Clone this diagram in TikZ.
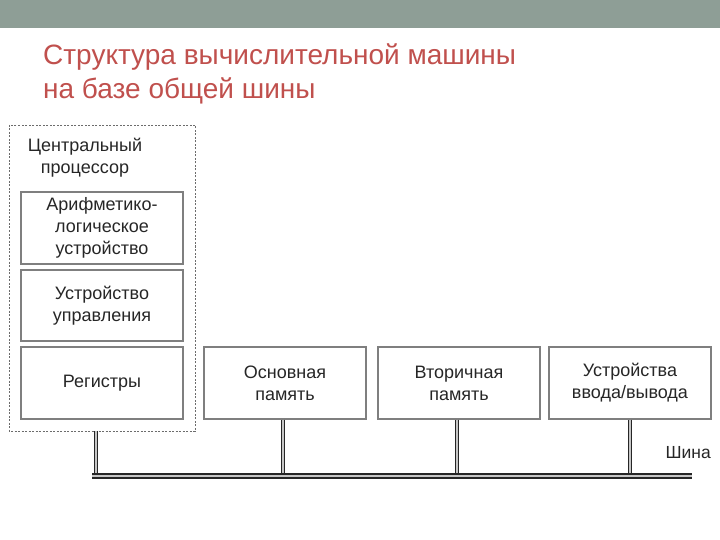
\documentclass[tikz,border=0pt]{standalone}
\usepackage{fontspec}
\setmainfont{Liberation Sans}
\definecolor{topbar}{HTML}{8E9E96}
\definecolor{titlered}{HTML}{C0504D}
\definecolor{boxgray}{HTML}{7F7F7F}
\definecolor{txt}{HTML}{262626}
\tikzset{
  unit/.style={draw=boxgray, line width=1.1pt, minimum width=162pt, minimum height=72pt, align=center, font=\fontsize{18}{22}\selectfont, text=txt, inner sep=0pt},
  busline/.style={draw=black!85, double=gray!45, double distance=1.6pt, line width=1.2pt},
}
\begin{document}
\begin{tikzpicture}[x=1pt,y=-1pt]
\useasboundingbox (0,0) rectangle (720,540);
\fill[topbar] (0,0) rectangle (720,28);
\node[anchor=west, text=titlered, font=\fontsize{28}{32}\selectfont, inner sep=0pt] (t1) at (43,57) {Структура вычислительной машины};
\node[anchor=west, text=titlered, font=\fontsize{28}{32}\selectfont, inner sep=0pt] (t2) at (43,91) {на базе общей шины};
\draw[boxgray!85!black, dashed, line width=0.9pt, dash pattern=on 2pt off 1.5pt] (9,125) rectangle (195,431);
\node[align=center, text=txt, font=\fontsize{18}{22}\selectfont, inner sep=0pt] (cpu) at (85,158) {Центральный\\процессор};
\node[unit] (alu) at (102,228) {Арифметико-\\логическое\\устройство};
\node[unit, minimum height=71pt] (cu) at (102,305.5) {Устройство\\управления};
\node[unit] (reg) at (102,383) {Регистры};
\node[unit] (mem) at (285,383) {Основная\\память};
\node[unit] (sec) at (459,383) {Вторичная\\память};
\node[unit] (io) at (630,383) {Устройства\\ввода/вывода};
\coordinate (bl) at (92,476);
\coordinate (br) at (692,476);
\coordinate (cpub) at (96,431);
\coordinate (b1) at (96,476);
\coordinate (b2) at (283,476);
\coordinate (b3) at (457,476);
\coordinate (b4) at (630,476);
\draw[busline] (cpub) -- (b1);
\draw[busline] (mem.south -| b2) -- (b2);
\draw[busline] (sec.south -| b3) -- (b3);
\draw[busline] (io.south -| b4) -- (b4);
\draw[busline, double distance=2.6pt, line width=1.3pt] (bl) -- (br);
\node[anchor=east, text=txt, font=\fontsize{17.5}{21}\selectfont, inner sep=0pt] (bus) at (711,453) {Шина};
\end{tikzpicture}
\end{document}
